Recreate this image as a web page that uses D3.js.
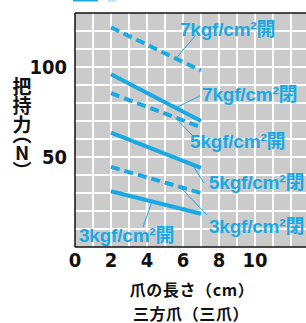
<!DOCTYPE html>
<html>
<head>
<meta charset="utf-8">
<script src="https://cdn.jsdelivr.net/npm/d3@7"></script>
<style>
  body { margin: 0; background: #fff; }
  svg { display: block; }
  .tick-label { font-family: 'Liberation Sans Narrow', 'DejaVu Sans Condensed', sans-serif; font-weight: bold; font-size: 20px; fill: #111; }
  .title { font-family: 'Noto Sans CJK JP', sans-serif; font-weight: bold; font-size: 16px; letter-spacing: 0.6px; fill: #111; }
  .y-title { font-family: 'Noto Sans CJK JP', sans-serif; font-weight: bold; font-size: 19px; fill: #111;
             writing-mode: vertical-rl; text-orientation: upright; font-feature-settings: "vpal" 1; }
  .series-label { font-family: 'Liberation Sans', 'Noto Sans CJK JP', sans-serif; font-weight: bold; font-size: 19px; letter-spacing: -0.2px; fill: #19a9e5; }
</style>
</head>
<body>
<div id="chart"></div>
<script>
// claw length (cm) at the two ends of each line
const lengths = [2, 7];

// gripping force (N) per series
const seriesNames = ['7kgf/cm²開', '7kgf/cm²閉', '5kgf/cm²開', '5kgf/cm²閉', '3kgf/cm²閉', '3kgf/cm²開'];
const seriesDashed = [true, false, true, false, true, false];
const seriesValues = [
  [122, 98],
  [96, 70],
  [85.5, 66.5],
  [63.5, 44],
  [44.5, 30],
  [31, 18.5]
];

// label callouts: point on series (x), leader end (x, N), label position (x, N)
const calloutAnchor = [5.6, 5.6, 5.56, 6.5, 5.83, 4.28];
const calloutEnd = [[6.7, 117.5], [6.94, 83.9], [6.5, 62.2], [7.17, 35.6], [7.33, 17.8], [3.78, 11.1]];
const calloutText = [[5.83, 117.5], [7.06, 81], [6.39, 55], [7.44, 32], [7.44, 7.8], [0.22, 2.8]];

const xTicks = [0, 2, 4, 6, 8, 10];
const yTicks = [50, 100];
const xGrid = d3.range(1, 13);
const yGrid = d3.range(10, 130, 10);

const width = 306, height = 323;
const blue = '#19a9e5';

const x = d3.scaleLinear().domain([0, 12.8]).range([75, 305.4]);
const y = d3.scaleLinear().domain([0, 130]).range([247, 13]);

const svg = d3.select('#chart').append('svg')
  .attr('width', width)
  .attr('height', height);

// cut-off legend bit at top
svg.append('rect').attr('x', 73).attr('y', -3).attr('width', 25).attr('height', 4.5).attr('fill', blue);
svg.append('ellipse').attr('cx', 112).attr('cy', 0).attr('rx', 5).attr('ry', 2).attr('fill', '#bfe6f7');

// plot background
svg.append('rect')
  .attr('x', x(0)).attr('y', y(130))
  .attr('width', width - x(0)).attr('height', y(0) - y(130))
  .attr('fill', '#cbcbcb');

// grid
svg.append('g').selectAll('line.v').data(xGrid).join('line')
  .attr('x1', d => x(d)).attr('x2', d => x(d))
  .attr('y1', y(130)).attr('y2', y(0))
  .attr('stroke', '#fff').attr('stroke-width', 2);
svg.append('g').selectAll('line.h').data(yGrid).join('line')
  .attr('x1', x(0)).attr('x2', width)
  .attr('y1', d => y(d)).attr('y2', d => y(d))
  .attr('stroke', '#fff').attr('stroke-width', 2);

// frame
svg.append('line').attr('x1', x(0)).attr('x2', width).attr('y1', y(130)).attr('y2', y(130)).attr('stroke', '#111').attr('stroke-width', 1.5);
svg.append('line').attr('x1', x(0)).attr('x2', width).attr('y1', y(0)).attr('y2', y(0)).attr('stroke', '#111').attr('stroke-width', 1.5);
svg.append('line').attr('x1', x(0)).attr('x2', x(0)).attr('y1', y(130)).attr('y2', y(0)).attr('stroke', '#111').attr('stroke-width', 1.5);

// tick labels
svg.append('g').selectAll('text').data(xTicks).join('text')
  .attr('class', 'tick-label')
  .attr('x', d => x(d)).attr('y', 267)
  .attr('text-anchor', 'middle')
  .text(d => d);
svg.append('g').selectAll('text').data(yTicks).join('text')
  .attr('class', 'tick-label')
  .attr('x', 67).attr('y', d => y(d) + 7)
  .attr('text-anchor', 'end')
  .text(d => d);

// series lines
const line = d3.line().x((d, i) => x(lengths[i])).y(d => y(d));
svg.append('g').selectAll('path').data(seriesValues).join('path')
  .attr('d', d => line(d))
  .attr('fill', 'none')
  .attr('stroke', blue)
  .attr('stroke-width', 4)
  .attr('stroke-dasharray', (d, i) => seriesDashed[i] ? '9,5' : null);

// callouts
const valueAt = (vals, xv) => vals[0] + (vals[1] - vals[0]) * (xv - lengths[0]) / (lengths[1] - lengths[0]);
const callouts = svg.append('g');
seriesNames.forEach((name, i) => {
  const ax = calloutAnchor[i];
  callouts.append('line')
    .attr('x1', x(ax)).attr('y1', y(valueAt(seriesValues[i], ax)))
    .attr('x2', x(calloutEnd[i][0])).attr('y2', y(calloutEnd[i][1]))
    .attr('stroke', blue).attr('stroke-width', 1);
  callouts.append('text')
    .attr('class', 'series-label')
    .attr('x', x(calloutText[i][0])).attr('y', y(calloutText[i][1]))
    .text(name);
});

// y axis title (vertical)
svg.append('text').attr('class', 'y-title')
  .attr('x', 22).attr('y', 77)
  .text('把持力（N）');

// x axis title, two lines
svg.append('text').attr('class', 'title').attr('text-anchor', 'middle')
  .attr('x', 192).attr('y', 296).text('爪の長さ（cm）');
svg.append('text').attr('class', 'title').attr('text-anchor', 'middle')
  .attr('x', 191).attr('y', 319.5).text('三方爪（三爪）');
</script>
</body>
</html>
